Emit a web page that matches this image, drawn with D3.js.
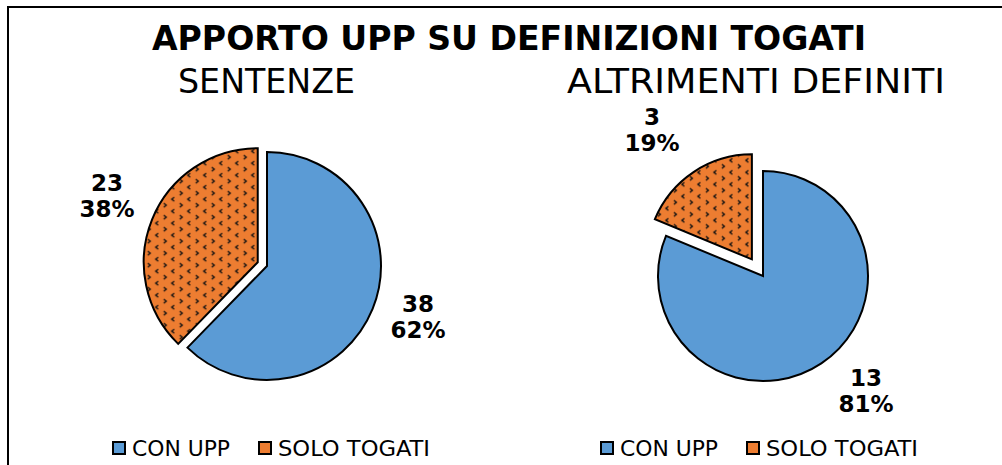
<!DOCTYPE html>
<html>
<head>
<meta charset="utf-8">
<script src="https://cdn.jsdelivr.net/npm/d3@7"></script>
<style>
  body { margin: 0; background: #fff; }
  svg { display: block; }
</style>
</head>
<body>
<div id="chart"></div>
<script>
// Data
const categories = ["CON UPP", "SOLO TOGATI"];
const sentenzeValues = [38, 23];
const sentenzePercent = ["62%", "38%"];
const altriValues = [13, 3];
const altriPercent = ["81%", "19%"];
const chartTitle = "APPORTO UPP SU DEFINIZIONI TOGATI";
const subTitles = ["SENTENZE", "ALTRIMENTI DEFINITI"];

const colors = ["#5B9BD5", "#ED7D31"];
const narrow = "Liberation Sans Narrow, DejaVu Sans Condensed, Arial Narrow, sans-serif";

const width = 1002;
const height = 465;

const svg = d3
  .select("#chart")
  .append("svg")
  .attr("width", width)
  .attr("height", height);

// Pattern for "SOLO TOGATI"
const defs = svg.append("defs");
const pat = defs
  .append("pattern")
  .attr("id", "dots")
  .attr("patternUnits", "userSpaceOnUse")
  .attr("width", 16)
  .attr("height", 12);
pat.append("rect").attr("width", 16).attr("height", 12).attr("fill", colors[1]);
pat.append("path").attr("d", "M2,1 L4.5,3 L2,5").attr("stroke", "#111").attr("stroke-width", 1.4).attr("fill", "none");
pat.append("path").attr("d", "M12.5,7 L10,9 L12.5,11").attr("stroke", "#111").attr("stroke-width", 1.4).attr("fill", "none");
const fills = [colors[0], "url(#dots)"];

// Border
svg
  .append("path")
  .attr("d", `M8,${height} L8,7 L${width},7`)
  .attr("fill", "none")
  .attr("stroke", "black")
  .attr("stroke-width", 2);

// Titles
svg
  .append("text")
  .attr("x", 509)
  .attr("y", 50)
  .attr("text-anchor", "middle")
  .attr("font-family", narrow)
  .attr("font-weight", "bold")
  .attr("font-size", 33)
  .attr("textLength", 714)
  .attr("lengthAdjust", "spacingAndGlyphs")
  .text(chartTitle);

const pies = [
  {
    values: sentenzeValues,
    pct: sentenzePercent,
    cx: 267, cy: 266, r: 114, explode: 10,
    sub: { x: 178, w: 177 },
    labels: [[418, 311], [107, 190]],
    legendX: 112,
  },
  {
    values: altriValues,
    pct: altriPercent,
    cx: 763, cy: 276, r: 105, explode: 20,
    sub: { x: 567, w: 378 },
    labels: [[866, 385], [652, 124]],
    legendX: 600,
  },
];

const pie = d3.pie().sort(null).value((d) => d);
const arc = d3.arc().innerRadius(0);

pies.forEach((p, pi) => {
  svg
    .append("text")
    .attr("x", p.sub.x)
    .attr("y", 93)
    .attr("font-family", narrow)
    .attr("font-size", 33)
    .attr("textLength", p.sub.w)
    .attr("lengthAdjust", "spacingAndGlyphs")
    .text(subTitles[pi]);

  const g = svg.append("g").attr("transform", `translate(${p.cx},${p.cy})`);
  const arcs = pie(p.values);
  g.selectAll("path")
    .data(arcs)
    .join("path")
    .attr("transform", (d, i) => {
      if (i === 0) return null;
      const mid = (d.startAngle + d.endAngle) / 2;
      return `translate(${Math.sin(mid) * p.explode},${-Math.cos(mid) * p.explode})`;
    })
    .attr("d", (d) => arc.outerRadius(p.r)(d))
    .attr("fill", (d, i) => fills[i])
    .attr("stroke", "black")
    .attr("stroke-width", 2)
    .attr("stroke-linejoin", "miter");

  // Data labels
  arcs.forEach((d, i) => {
    const [lx, ly] = p.labels[i];
    const t = svg
      .append("text")
      .attr("text-anchor", "middle")
      .attr("font-family", "DejaVu Sans")
      .attr("font-weight", "bold")
      .attr("font-size", 23);
    t.append("tspan").attr("x", lx).attr("y", ly + 1).text(p.values[i]);
    t.append("tspan").attr("x", lx).attr("y", ly + 27).text(p.pct[i]);
  });

  // Legend
  const lg = svg.append("g").attr("transform", `translate(${p.legendX},441)`);
  categories.forEach((c, i) => {
    const off = i * 146;
    lg.append("rect")
      .attr("x", 1)
      .attr("x", off + 1)
      .attr("y", 1)
      .attr("width", 12)
      .attr("height", 12)
      .attr("fill", i === 0 ? colors[0] : colors[1])
      .attr("stroke", "black")
      .attr("stroke-width", 2);
    lg.append("text")
      .attr("x", off + 20)
      .attr("y", 15)
      .attr("font-family", narrow)
      .attr("font-size", 22)
      .attr("textLength", i === 0 ? 98 : 152)
      .attr("lengthAdjust", "spacingAndGlyphs")
      .text(c);
  });
});
</script>
</body>
</html>
